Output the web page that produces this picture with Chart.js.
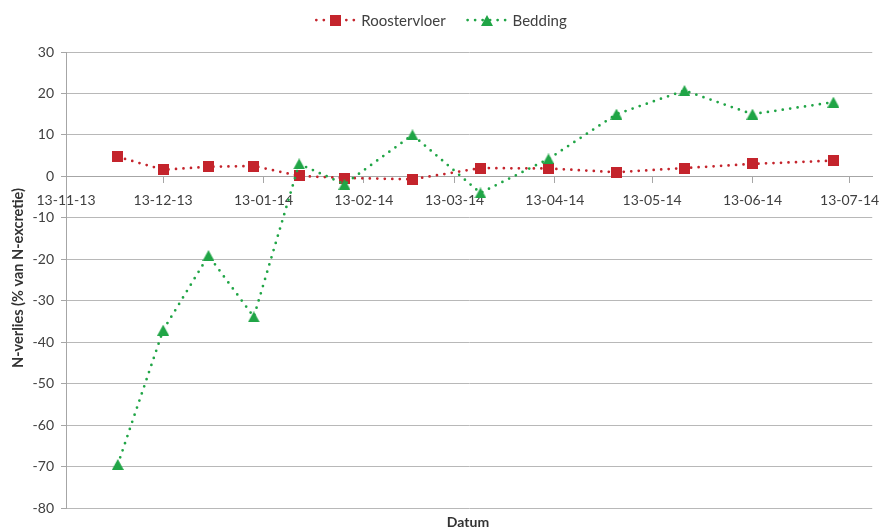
<!DOCTYPE html>
<html>
<head>
<meta charset="utf-8">
<script src="https://cdn.jsdelivr.net/npm/chart.js@4.4.0/dist/chart.umd.min.js"></script>
<style>
    body { margin: 0; background: #fff; }
    #nChart { display: block; }
</style>
</head>
<body>
<canvas id="nChart" width="881" height="531"></canvas>
<script>
// Meetdata: N-verlies per meetdatum
const sampleDates = ['2013-11-29', '2013-12-13', '2013-12-27', '2014-01-10', '2014-01-24', '2014-02-07',
    '2014-02-28', '2014-03-21', '2014-04-11', '2014-05-02', '2014-05-23', '2014-06-13', '2014-07-08'];
const roostervloer = [4.7, 1.6, 2.3, 2.5, 0.1, -0.4, -0.7, 2.0, 1.9, 1.0, 2.0, 3.0, 3.8];
const bedding = [-69.5, -37.1, -19.1, -33.9, 3.0, -1.9, 10.0, -4.0, 4.2, 15.0, 20.7, 15.0, 17.9];

const tickDates = ['2013-11-13', '2013-12-13', '2014-01-13', '2014-02-13', '2014-03-13',
    '2014-04-13', '2014-05-13', '2014-06-13', '2014-07-13'];
const axisEnd = '2014-07-20';

const seriesNames = ['Roostervloer', 'Bedding'];
const RED = '#c4242c';
const GREEN = '#20a546';
const FONT = 'Lato, "Open Sans", sans-serif';

const DAY = 86400000;
const toDay = s => Date.UTC(+s.slice(0, 4), +s.slice(5, 7) - 1, +s.slice(8, 10)) / DAY;
const fmtDay = d => {
    const dt = new Date(d * DAY);
    const p = n => String(n).padStart(2, '0');
    return p(dt.getUTCDate()) + '-' + p(dt.getUTCMonth() + 1) + '-' + p(dt.getUTCFullYear() % 100);
};

// marker images, centred on the point
function squareMarker(color) {
    const c = document.createElement('canvas');
    c.width = 11; c.height = 11;
    const g = c.getContext('2d');
    g.fillStyle = color;
    g.fillRect(0, 0, 11, 11);
    return c;
}
function triangleMarker(color) {
    const c = document.createElement('canvas');
    c.width = 12; c.height = 11;
    const g = c.getContext('2d');
    g.fillStyle = color;
    g.beginPath();
    g.moveTo(6, 0);
    g.lineTo(12, 11);
    g.lineTo(0, 11);
    g.closePath();
    g.fill();
    return c;
}
const markers = [squareMarker(RED), triangleMarker(GREEN)];
const colors = [RED, GREEN];

const lineStyle = {
    borderWidth: 2.75,
    borderDash: [0, 7.5],
    borderCapStyle: 'round',
    tension: 0,
    pointRadius: 6,
    pointHoverRadius: 6
};

// legend and axis titles
const decorations = {
    id: 'decorations',
    afterDraw(chart) {
        const ctx = chart.ctx;
        ctx.save();

        ctx.font = '15px ' + FONT;
        ctx.textBaseline = 'middle';
        const lineLen = 40, gap = 7, itemGap = 20, ly = 20;
        const widths = seriesNames.map(n => lineLen + gap + ctx.measureText(n).width);
        const total = widths.reduce((a, b) => a + b, 0) + itemGap;
        let x = chart.width / 2 - total / 2;
        seriesNames.forEach((name, i) => {
            ctx.strokeStyle = colors[i];
            ctx.lineWidth = 2.75;
            ctx.lineCap = 'round';
            ctx.setLineDash([0, 7.5]);
            ctx.beginPath();
            ctx.moveTo(x + 2, ly);
            ctx.lineTo(x + lineLen, ly);
            ctx.stroke();
            ctx.setLineDash([]);
            const m = markers[i];
            ctx.drawImage(m, Math.round(x + lineLen / 2 + 1 - m.width / 2), Math.round(ly - m.height / 2));
            ctx.fillStyle = '#404040';
            ctx.textAlign = 'left';
            ctx.fillText(name, x + lineLen + gap, ly + 1);
            x += widths[i] + itemGap;
        });

        ctx.font = 'bold 14px ' + FONT;
        ctx.fillStyle = '#333333';
        ctx.textAlign = 'center';
        ctx.fillText('Datum', 468, 522);

        ctx.font = 'bold 14.5px ' + FONT;
        ctx.translate(18, 278);
        ctx.rotate(-Math.PI / 2);
        ctx.fillText('N-verlies (% van N-excretie)', 0, 0);
        ctx.restore();
    }
};

new Chart(document.getElementById('nChart'), {
    type: 'line',
    data: {
        datasets: [
            Object.assign({
                label: seriesNames[0],
                data: sampleDates.map((d, i) => ({ x: toDay(d), y: roostervloer[i] })),
                borderColor: RED,
                backgroundColor: RED,
                pointStyle: markers[0],
                order: 1
            }, lineStyle),
            Object.assign({
                label: seriesNames[1],
                data: sampleDates.map((d, i) => ({ x: toDay(d), y: bedding[i] })),
                borderColor: GREEN,
                backgroundColor: GREEN,
                pointStyle: markers[1],
                order: 0
            }, lineStyle)
        ]
    },
    options: {
        responsive: false,
        animation: false,
        devicePixelRatio: 1,
        layout: { padding: { top: 52, right: 8, bottom: 23, left: 0 } },
        plugins: {
            legend: { display: false },
            tooltip: { enabled: false }
        },
        scales: {
            x: {
                type: 'linear',
                position: { y: 0 },
                min: toDay(tickDates[0]),
                max: toDay(axisEnd),
                afterBuildTicks: scale => {
                    scale.ticks = tickDates.map(d => ({ value: toDay(d) }));
                },
                afterFit: scale => {
                    // labels may run past the plot edges; no extra room needed
                    scale.paddingLeft = 0;
                    scale.paddingRight = 0;
                },
                grid: {
                    drawOnChartArea: false,
                    tickLength: 6,
                    tickColor: '#a6a6a6'
                },
                border: { color: '#a6a6a6', width: 1 },
                ticks: {
                    color: '#404040',
                    font: { family: FONT, size: 14 },
                    padding: 10,
                    maxRotation: 0,
                    autoSkip: false,
                    callback: v => fmtDay(v)
                }
            },
            y: {
                min: -80,
                max: 30,
                afterFit: scale => { scale.width = 66; },
                grid: {
                    color: '#b8b8b8',
                    tickLength: 5,
                    tickColor: '#a6a6a6'
                },
                border: { color: '#a6a6a6', width: 1 },
                ticks: {
                    stepSize: 10,
                    color: '#404040',
                    font: { family: FONT, size: 14 },
                    padding: 7
                }
            }
        }
    },
    plugins: [decorations]
});
</script>
</body>
</html>
